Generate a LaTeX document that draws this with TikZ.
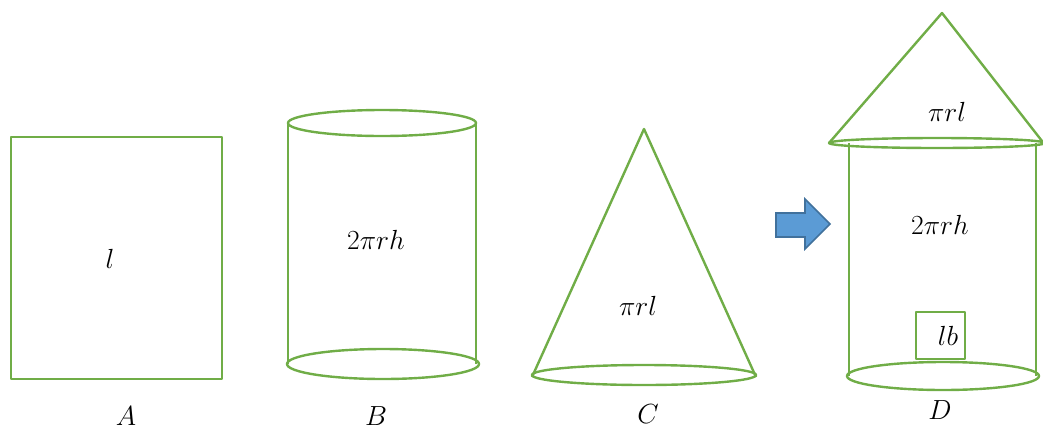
\documentclass[tikz,border=0pt]{standalone}
\usetikzlibrary{shapes.arrows}
\definecolor{grn}{HTML}{70AD47}
\definecolor{blu}{HTML}{5B9BD5}
\definecolor{bluedge}{HTML}{41719C}
\begin{document}
\begin{tikzpicture}[x=0.75pt,y=-0.75pt,
  shp/.style={draw=grn,line width=1.8pt,line join=round},
  lbl/.style={font=\fontsize{21}{25}\selectfont,inner sep=0pt}]
\useasboundingbox (0,0) rectangle (1043,429);
% A
\draw[shp] (11,137) rectangle (222,379);
\node[lbl] (la) at (110,259) {$l$};
\node[lbl] (na) at (126,416) {$A$};
% B
\draw[shp] (288,123) -- (288,364) (476,123) -- (476,364);
\draw[shp] (382,123) ellipse [x radius=94, y radius=13];
\draw[shp] (383,364) ellipse [x radius=96, y radius=15];
\node[lbl] (lb) at (376,240) {$2\pi rh$};
\node[lbl] (nb) at (376,416) {$B$};
% C
\draw[shp] (532,377) -- (644,129) -- (756,377);
\draw[shp] (644,375) ellipse [x radius=112, y radius=10];
\node[lbl] (lc) at (638,306) {$\pi rl$};
\node[lbl] (nc) at (648,414) {$C$};
% arrow
\draw[draw=bluedge,fill=blu,line width=1.2pt,line join=miter]
  (776,213) -- (805,213) -- (805,199) -- (830,224) -- (805,249) -- (805,237) -- (776,237) -- cycle;
% D
\draw[shp] (829,143) -- (942,13) -- (1049,150);
\draw[shp] (849,143) -- (849,376) (1036,143) -- (1036,376);
\draw[shp] (937,143) ellipse [x radius=108, y radius=5];
\draw[shp] (943,376) ellipse [x radius=96, y radius=14];
\draw[shp] (916,312) rectangle (965,359);
\node[lbl] (ld1) at (947,112) {$\pi rl$};
\node[lbl] (ld2) at (940,225) {$2\pi rh$};
\node[lbl] (ld3) at (948,336) {$lb$};
\node[lbl] (nd) at (940,410) {$D$};
\end{tikzpicture}
\end{document}
